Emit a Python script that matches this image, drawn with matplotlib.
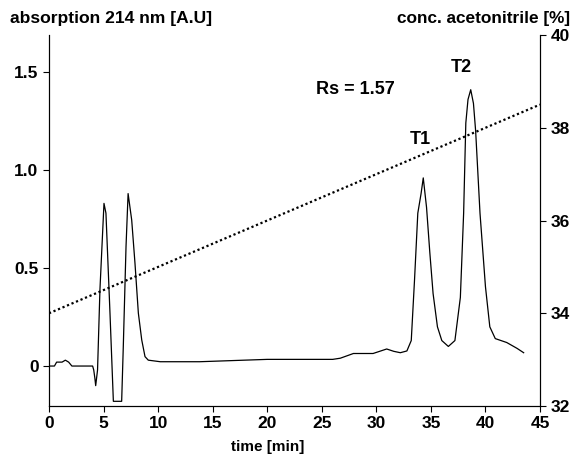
import numpy as np
import matplotlib.pyplot as plt

plt.rcParams['font.family'] = ['Liberation Sans', 'DejaVu Sans']
plt.rcParams['font.weight'] = 'bold'

# chromatogram (time in min, absorbance in A.U.)
time_min = [0, 0.5, 0.7, 1.2, 1.5, 1.8, 2.1, 4.0, 4.1, 4.2, 4.28, 4.45, 4.67, 5.04, 5.22,
            5.59, 5.9, 6.66, 6.81, 7.06, 7.25, 7.58, 7.88, 8.19, 8.5, 8.8, 9.1, 10.2,
            13.8, 20, 26, 26.7, 27.9, 29.7, 30.95, 31.6, 32.2, 32.8, 33.2, 33.5, 33.8,
            34.1, 34.3, 34.6, 34.9, 35.2, 35.6, 36.0, 36.6, 37.2, 37.7, 38.0, 38.2,
            38.4, 38.65, 38.9, 39.1, 39.5, 40.0, 40.4, 40.9, 41.95, 42.9, 43.5]
absorb = [0.0, 0.0, 0.02, 0.02, 0.03, 0.02, 0.0, 0.0, -0.02, -0.06, -0.1, -0.02, 0.39,
          0.83, 0.78, 0.27, -0.18, -0.18, 0.1, 0.61, 0.88, 0.745, 0.525, 0.27, 0.133,
          0.048, 0.03, 0.022, 0.022, 0.034, 0.034, 0.04, 0.064, 0.064, 0.087, 0.075,
          0.068, 0.077, 0.13, 0.44, 0.78, 0.88, 0.96, 0.81, 0.58, 0.37, 0.2, 0.13, 0.1,
          0.13, 0.35, 0.78, 1.24, 1.36, 1.41, 1.34, 1.2, 0.78, 0.405, 0.2, 0.14, 0.12,
          0.09, 0.068]

# acetonitrile gradient
grad_time = [0, 45]
grad_conc = [34.0, 38.5]

fig = plt.figure(figsize=(5.77, 4.58), dpi=100)
ax = fig.add_axes([0.0849, 0.1135, 0.851, 0.81])
ax.plot(time_min, absorb, color='black', lw=0.9)
ax.set_xlim(0, 45)
ax.set_ylim(-0.204, 1.689)
ax.set_xticks(range(0, 50, 5))
ax.set_yticks([0, 0.5, 1.0, 1.5])
ax.set_yticklabels(['0', '0.5', '1.0', '1.5'])
ax.spines['top'].set_visible(False)
ax.tick_params(labelsize=12.5, length=4, width=0.8)

ax2 = ax.twinx()
ax2.plot(grad_time, grad_conc, color='black', lw=1.6, linestyle=(0, (1, 1.2)))
ax2.set_ylim(32, 40)
ax2.set_yticks([32, 34, 36, 38, 40])
ax2.spines['top'].set_visible(False)
ax2.tick_params(labelsize=12.5, length=4, width=0.8)

fig.text(10 / 577, 1 - 19 / 458, 'absorption 214 nm [A.U]', fontsize=12.6,
         fontweight='bold', ha='left', va='center')
fig.text(570 / 577, 1 - 19 / 458, 'conc. acetonitrile [%]', fontsize=12.4,
         fontweight='bold', ha='right', va='center')
fig.text(268 / 577, 1 - 447 / 458, 'time [min]', fontsize=11,
         fontweight='bold', ha='center', va='center')
fig.text(355 / 577, 1 - 90 / 458, 'Rs = 1.57', fontsize=13, fontweight='bold',
         ha='center', va='center')
fig.text(420 / 577, 1 - 139 / 458, 'T1', fontsize=13, fontweight='bold',
         ha='center', va='center')
fig.text(461 / 577, 1 - 68 / 458, 'T2', fontsize=13, fontweight='bold',
         ha='center', va='center')

fig.savefig('out.png', dpi=100)
